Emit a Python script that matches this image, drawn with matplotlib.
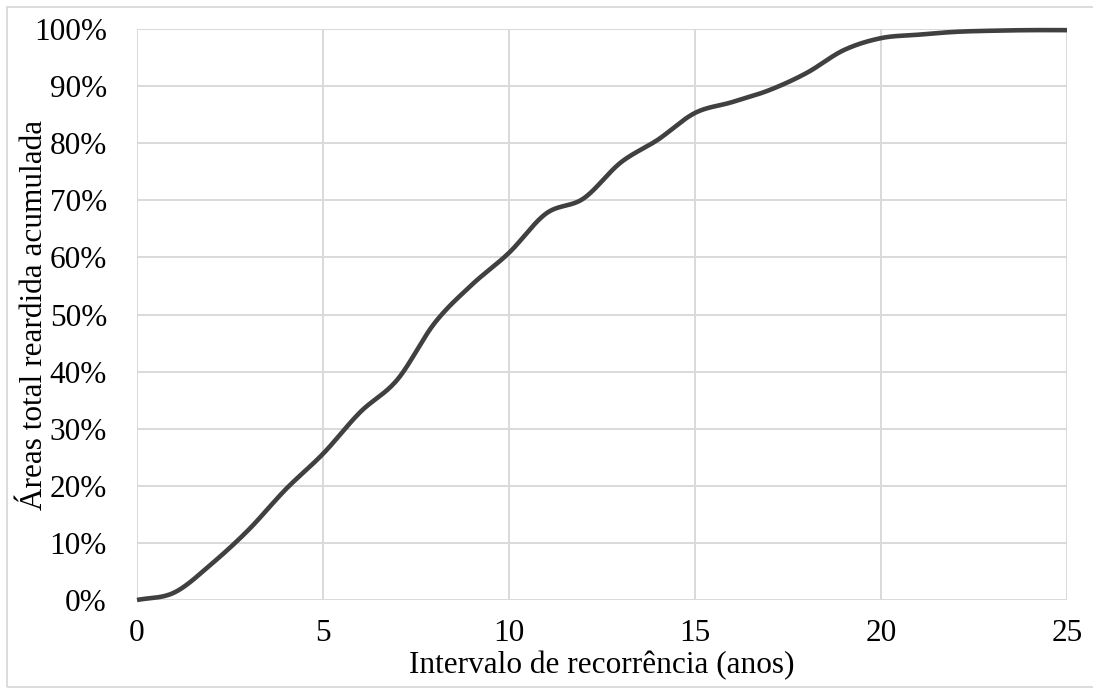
import numpy as np
import matplotlib
matplotlib.use("Agg")
import matplotlib.pyplot as plt
from matplotlib.patches import Rectangle
from matplotlib.ticker import FuncFormatter

# Cumulative share of reburned area by recurrence interval (years)
intervalo_anos = [0, 1, 2, 3, 4, 5, 6, 7, 8, 9, 10, 11, 12, 13, 14, 15,
                  16, 17, 18, 19, 20, 21, 22, 23, 24, 25]
area_acumulada_pct = [0.0, 1.3, 6.3, 12.3, 19.4, 25.6, 32.9, 38.6, 48.5, 55.2,
                      60.8, 67.7, 70.3, 76.6, 80.6, 85.3, 87.2, 89.3, 92.3,
                      96.3, 98.4, 99.0, 99.5, 99.7, 99.8, 99.8]

x_ticks = [0, 5, 10, 15, 20, 25]
y_ticks = [0, 10, 20, 30, 40, 50, 60, 70, 80, 90, 100]

x_label = "Intervalo de recorrência (anos)"
y_label = "Áreas total reardida acumulada"

FONT_SIZE = 22.5
W, H = 1093, 688
AX_L, AX_R, AX_T, AX_B = 137, 1067, 29, 600


def smooth_curve(xs, ys, steps=30):
    """Catmull-Rom smoothing through every data point (smoothed line style)."""
    xs = np.asarray(xs, float)
    ys = np.asarray(ys, float)
    px = np.concatenate([[2 * xs[0] - xs[1]], xs, [2 * xs[-1] - xs[-2]]])
    py = np.concatenate([[2 * ys[0] - ys[1]], ys, [2 * ys[-1] - ys[-2]]])
    out_x, out_y = [], []
    t = np.linspace(0, 1, steps, endpoint=False)
    for i in range(1, len(px) - 2):
        for arr, out in ((px, out_x), (py, out_y)):
            p0, p1, p2, p3 = arr[i - 1], arr[i], arr[i + 1], arr[i + 2]
            seg = 0.5 * ((2 * p1) + (-p0 + p2) * t
                         + (2 * p0 - 5 * p1 + 4 * p2 - p3) * t ** 2
                         + (-p0 + 3 * p1 - 3 * p2 + p3) * t ** 3)
            out.extend(seg)
    out_x.append(xs[-1])
    out_y.append(ys[-1])
    return np.array(out_x), np.array(out_y)


plt.rcParams["font.family"] = ["Liberation Serif", "DejaVu Serif"]

fig = plt.figure(figsize=(W / 100, H / 100), dpi=100)
ax = fig.add_axes([AX_L / W, 1 - AX_B / H, (AX_R - AX_L) / W, (AX_B - AX_T) / H])

# Outer chart frame
fig.patches.append(Rectangle((7 / W, 1 / H), 1.0, 680 / H,
                             transform=fig.transFigure, fill=False,
                             edgecolor="#d9d9d9", linewidth=1.3,
                             zorder=0))

sx, sy = smooth_curve(intervalo_anos, area_acumulada_pct)
ax.plot(sx, sy, color="#404040", linewidth=3.3, solid_capstyle="butt",
        zorder=3, clip_on=False)

ax.set_xlim(0, 25)
ax.set_ylim(0, 100)
ax.set_xticks(x_ticks)
ax.set_yticks(y_ticks)
ax.yaxis.set_major_formatter(FuncFormatter(lambda v, _: f"{v:.0f}%"))

ax.grid(True, color="#d9d9d9", linewidth=1.4)
ax.set_axisbelow(True)
for s in ax.spines.values():
    s.set_visible(False)
ax.tick_params(axis="both", length=0, labelsize=FONT_SIZE, colors="black")
ax.tick_params(axis="y", pad=21.6)
ax.tick_params(axis="x", pad=14)

ax.set_xlabel(x_label, fontsize=FONT_SIZE)
ax.set_ylabel(y_label, fontsize=FONT_SIZE)
ax.xaxis.set_label_coords(0.5, -(651 - AX_B) / (AX_B - AX_T))
ax.yaxis.set_label_coords(-(AX_L - 49) / (AX_R - AX_L), 0.5)

fig.savefig("out.png", dpi=100)
